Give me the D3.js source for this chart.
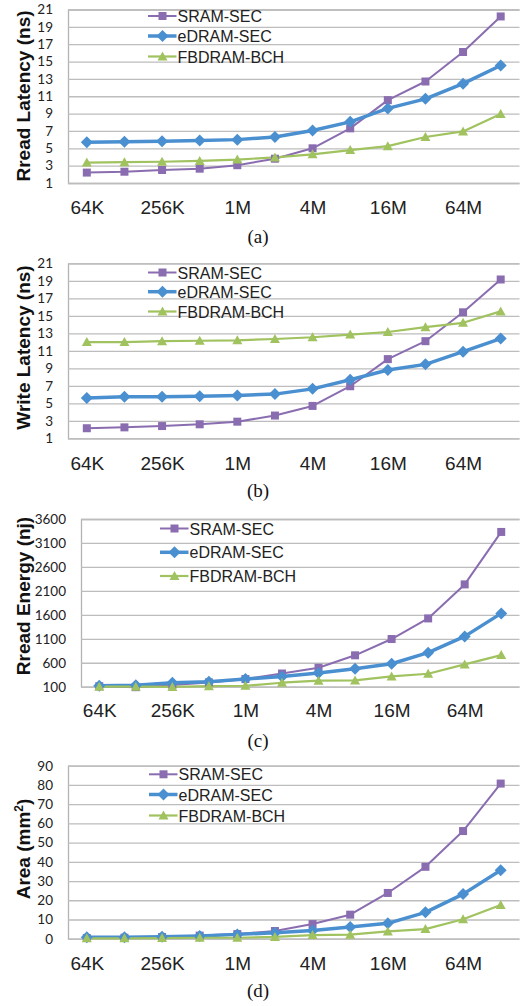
<!DOCTYPE html>
<html><head><meta charset="utf-8">
<script src="https://cdnjs.cloudflare.com/ajax/libs/d3/7.8.5/d3.min.js"></script>
<style>body{margin:0;background:#fff}svg{display:block}</style>
</head><body>
<svg id="c" width="523" height="1006"></svg>
<script>
const categories = ["64K","128K","256K","512K","1M","2M","4M","8M","16M","32M","64M","128M"];
const tickLabels = ["64K","256K","1M","4M","16M","64M"];
const seriesNames = ["SRAM-SEC","eDRAM-SEC","FBDRAM-BCH"];

const readLatSRAM  = [2.2,2.3,2.5,2.65,3.05,3.8,5.0,7.3,10.55,12.7,16.1,20.2];
const readLatEDRAM = [5.7,5.75,5.8,5.9,6.0,6.3,7.05,8.05,9.6,10.7,12.45,14.55];
const readLatFB    = [3.35,3.4,3.45,3.55,3.7,3.95,4.3,4.8,5.25,6.3,6.95,8.95];

const writeLatSRAM  = [2.15,2.25,2.4,2.6,2.9,3.6,4.7,6.95,10.05,12.1,15.4,19.15];
const writeLatEDRAM = [5.6,5.75,5.75,5.8,5.9,6.05,6.65,7.7,8.8,9.45,10.9,12.4];
const writeLatFB    = [12.0,12.0,12.1,12.15,12.2,12.35,12.55,12.85,13.15,13.7,14.2,15.5];

const energySRAM  = [110,90,135,190,260,375,495,755,1095,1525,2235,3330];
const energyEDRAM = [120,128,183,205,260,315,385,475,580,810,1150,1630];
const energyFB    = [100,100,95,112,120,183,225,232,315,370,565,760];

const areaSRAM  = [0.35,0.5,0.9,1.6,2.4,4.0,7.6,12.5,23.8,37.4,56.0,80.7];
const areaEDRAM = [0.7,0.7,1.0,1.4,2.25,3.1,4.3,6.1,8.0,13.7,23.2,35.6];
const areaFB    = [0.2,0.2,0.35,0.5,0.5,0.9,1.9,2.1,3.8,5.0,10.1,17.5];

const latencyTicks = [1,3,5,7,9,11,13,15,17,19,21];
const energyTicks = [100,600,1100,1600,2100,2600,3100,3600];
const areaTicks = [0,10,20,30,40,50,60,70,80,90];

const colors = ["#8a6db0","#4a8fd0","#a0c25f"];
const widths = [2,3.5,2.2];
const markers = ["square","diamond","triangle"];

const panels = [
  {title:"Rread Latency (ns)", series:[readLatSRAM,readLatEDRAM,readLatFB], ticks:latencyTicks,
   top:9.5, bottom:183, left:68, titleY:96, tickBase:214, caption:"(a)", capY:243, legX:148, legY:[16,36,56.5]},
  {title:"Write Latency (ns)", series:[writeLatSRAM,writeLatEDRAM,writeLatFB], ticks:latencyTicks,
   top:263.3, bottom:438.3, left:68, titleY:347.5, tickBase:470, caption:"(b)", capY:497, legX:148, legY:[272.5,291.7,311.5]},
  {title:"Rread Energy (nj)", series:[energySRAM,energyEDRAM,energyFB], ticks:energyTicks,
   top:519, bottom:686.7, left:81, titleY:596, tickBase:717, caption:"(c)", capY:747, legX:160, legY:[528.5,552.3,576]},
  {title:"Area (mm²)", series:[areaSRAM,areaEDRAM,areaFB], ticks:areaTicks,
   top:765.7, bottom:938.7, left:68, titleY:849, tickBase:970, caption:"(d)", capY:997, legX:149, legY:[774.3,794.5,815.5]}
];

const svg = d3.select("#c");
const right = 519.5;

function drawMarker(g, type, x, y, color){
  if(type==="square"){
    g.append("rect").attr("x",x-4).attr("y",y-4).attr("width",8).attr("height",8).attr("fill",color);
  } else if(type==="diamond"){
    g.append("path").attr("d",`M${x},${y-6}L${x+6},${y}L${x},${y+6}L${x-6},${y}Z`).attr("fill",color);
  } else {
    g.append("path").attr("d",`M${x},${y-5}L${x+5},${y+4}L${x-5},${y+4}Z`).attr("fill",color);
  }
}

panels.forEach(p=>{
  const g = svg.append("g");
  const x = d3.scalePoint().domain(categories).range([p.left,right]).padding(0.5);
  const y = d3.scaleLinear().domain([p.ticks[0],p.ticks[p.ticks.length-1]]).range([p.bottom,p.top]);

  const yAxis = d3.axisLeft(y).tickValues(p.ticks).tickSize(-(right-p.left)).tickPadding(15).tickFormat(d3.format("d"));
  const ga = g.append("g").attr("transform",`translate(${p.left},0)`).call(yAxis);
  ga.select(".domain").attr("stroke","#b3b3b3").attr("stroke-width",1.3);
  ga.selectAll(".tick line").attr("stroke","#bdbdbd").attr("stroke-width",1.3);
  ga.selectAll(".tick text").attr("font-family","Lato, 'Open Sans', sans-serif").attr("font-size",13.5).attr("fill","#222");

  const xAxis = d3.axisBottom(x).tickValues(tickLabels).tickSize(0).tickPadding(0);
  const gx = g.append("g").attr("transform",`translate(0,${p.bottom})`).call(xAxis);
  gx.select(".domain").remove();
  gx.selectAll(".tick text").attr("font-family","'Liberation Sans', Arial, sans-serif").attr("font-size",19)
    .attr("fill","#222").attr("dy",null).attr("y",p.tickBase-p.bottom);

  const t = g.append("text").attr("transform",`translate(30,${p.titleY}) rotate(-90)`)
    .attr("text-anchor","middle").attr("font-family","'Liberation Sans', Arial, sans-serif")
    .attr("font-weight","bold").attr("font-size",19).attr("fill","#111");
  if(p.title.indexOf("²")>=0){
    t.append("tspan").text("Area (mm");
    t.append("tspan").text("2").attr("font-size",12).attr("dy",-7);
    t.append("tspan").text(")").attr("dy",7);
  } else t.text(p.title);

  g.append("text").attr("x",258).attr("y",p.capY).attr("text-anchor","middle")
    .attr("font-family","'Liberation Serif', 'Times New Roman', serif").attr("font-size",19).attr("fill","#111").text(p.caption);

  p.series.forEach((vals,i)=>{
    const line = d3.line().x((d,j)=>x(categories[j])).y(d=>y(d));
    g.append("path").datum(vals).attr("d",line).attr("fill","none").attr("stroke",colors[i])
      .attr("stroke-width",widths[i]).attr("stroke-linejoin","round");
  });
  p.series.forEach((vals,i)=>{
    const mg = g.append("g");
    vals.forEach((v,j)=>drawMarker(mg,markers[i],x(categories[j]),y(v),colors[i]));
  });

  seriesNames.forEach((name,i)=>{
    const ly = p.legY[i];
    g.append("line").attr("x1",p.legX).attr("x2",p.legX+28.5).attr("y1",ly).attr("y2",ly)
      .attr("stroke",colors[i]).attr("stroke-width",widths[i]);
    drawMarker(g,markers[i],p.legX+14.5,ly,colors[i]);
    g.append("text").attr("x",p.legX+29.5).attr("y",ly+6).attr("font-family","'Liberation Sans', Arial, sans-serif")
      .attr("font-size",16).attr("fill","#222").text(name);
  });
});
</script>
</body></html>
